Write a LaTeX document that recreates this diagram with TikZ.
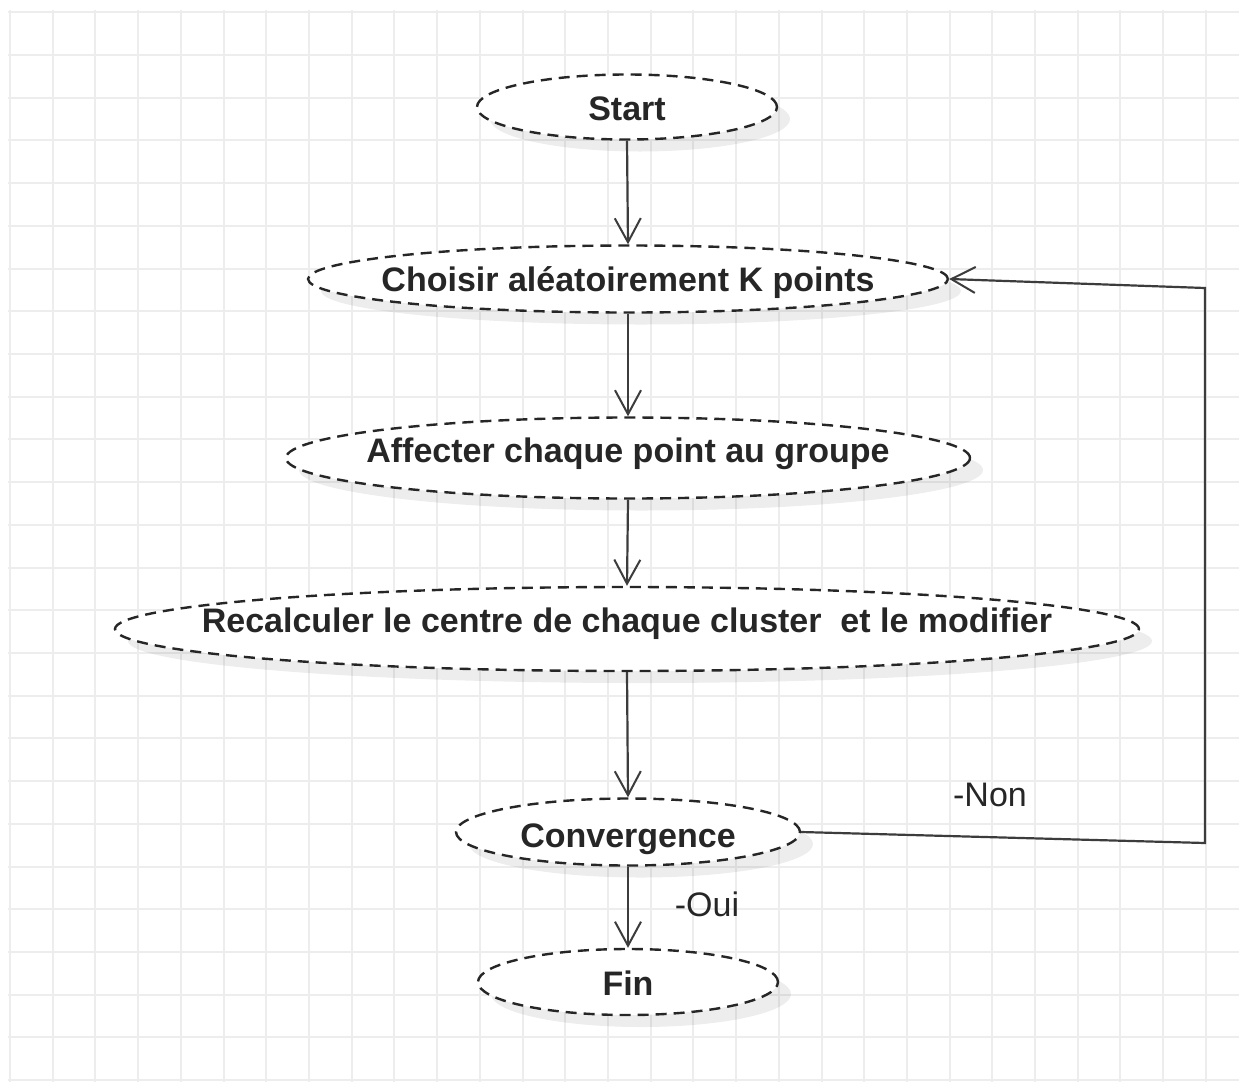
\documentclass[tikz,border=0pt]{standalone}
\usepackage{fontspec}
\setmainfont{Liberation Sans}
\usetikzlibrary{shapes.geometric,arrows.meta}
\definecolor{gridgray}{HTML}{EDEDED}
\definecolor{inkgray}{HTML}{262626}
\definecolor{linegray}{HTML}{3C3C3C}
% zero-width label so the ellipse keeps its given size
\newcommand{\steptext}[1]{\makebox[0pt]{#1}}
\tikzset{
  stepnode/.style={ellipse, draw=inkgray, fill=white, line width=2.4pt,
    dash pattern=on 11pt off 7pt, inner sep=0pt, text=inkgray,
    font=\fontsize{34pt}{40pt}\selectfont\bfseries,
    preaction={draw=none, fill=black, fill opacity=0.07,
      transform canvas={shift={(13pt,-12pt)}}}},
  flow/.style={draw=linegray, line width=2.2pt,
    -{Straight Barb[length=24pt, width=26pt, line width=2pt]}},
  answer/.style={text=inkgray, font=\fontsize{34pt}{40pt}\selectfont}
}
\begin{document}
\begin{tikzpicture}[x=1pt, y=-1pt]
\useasboundingbox (0,0) rectangle (1239,1082);
\fill[white] (0,0) rectangle (1239,1082);
% background grid
\foreach \k in {0,...,28}{
  \pgfmathsetmacro{\gx}{10+42.71*\k}
  \draw[gridgray, line width=2pt] (\gx,10) -- (\gx,1082);
}
\foreach \k in {0,...,25}{
  \pgfmathsetmacro{\gy}{12.3+42.71*\k}
  \draw[gridgray, line width=2pt] (8,\gy) -- (1239,\gy);
}
% flow steps
\node[stepnode, minimum width=300pt, minimum height=65pt, text height=27pt, text depth=0pt] (start) at (627,107) {\steptext{Start}};
\node[stepnode, minimum width=640pt, minimum height=67pt, text height=25pt, text depth=0pt] (choix) at (628,279) {\steptext{Choisir aléatoirement K points}};
\node[stepnode, minimum width=684pt, minimum height=81pt, text depth=16pt] (affect) at (628,458) {\steptext{Affecter chaque point au groupe}};
\node[stepnode, minimum width=1024pt, minimum height=84pt, text depth=18pt] (recalc) at (627,629) {\steptext{Recalculer le centre de chaque cluster \ et le modifier}};
\node[stepnode, minimum width=344pt, minimum height=67pt, text height=30pt, text depth=0pt] (conv) at (628,832) {\steptext{Convergence}};
\node[stepnode, minimum width=300pt, minimum height=66pt, text height=27pt, text depth=0pt] (fin) at (628,982) {\steptext{Fin}};
% connectors
\draw[flow] (start.south) -- (choix.north);
\draw[flow] (choix.south) -- (affect.north);
\draw[flow] (affect.south) -- (recalc.north);
\draw[flow] (recalc.south) -- (conv.north);
\draw[flow] (conv.south) -- (fin.north);
\coordinate (loopLow) at (1205,843);
\coordinate (loopHigh) at (1205,288);
\draw[flow] (conv.east) -- (loopLow) -- (loopHigh) -- (choix.east);
% branch labels
\node[answer] (non) at (990,795) {-Non};
\node[answer] (oui) at (707,904) {-Oui};
\end{tikzpicture}
\end{document}
